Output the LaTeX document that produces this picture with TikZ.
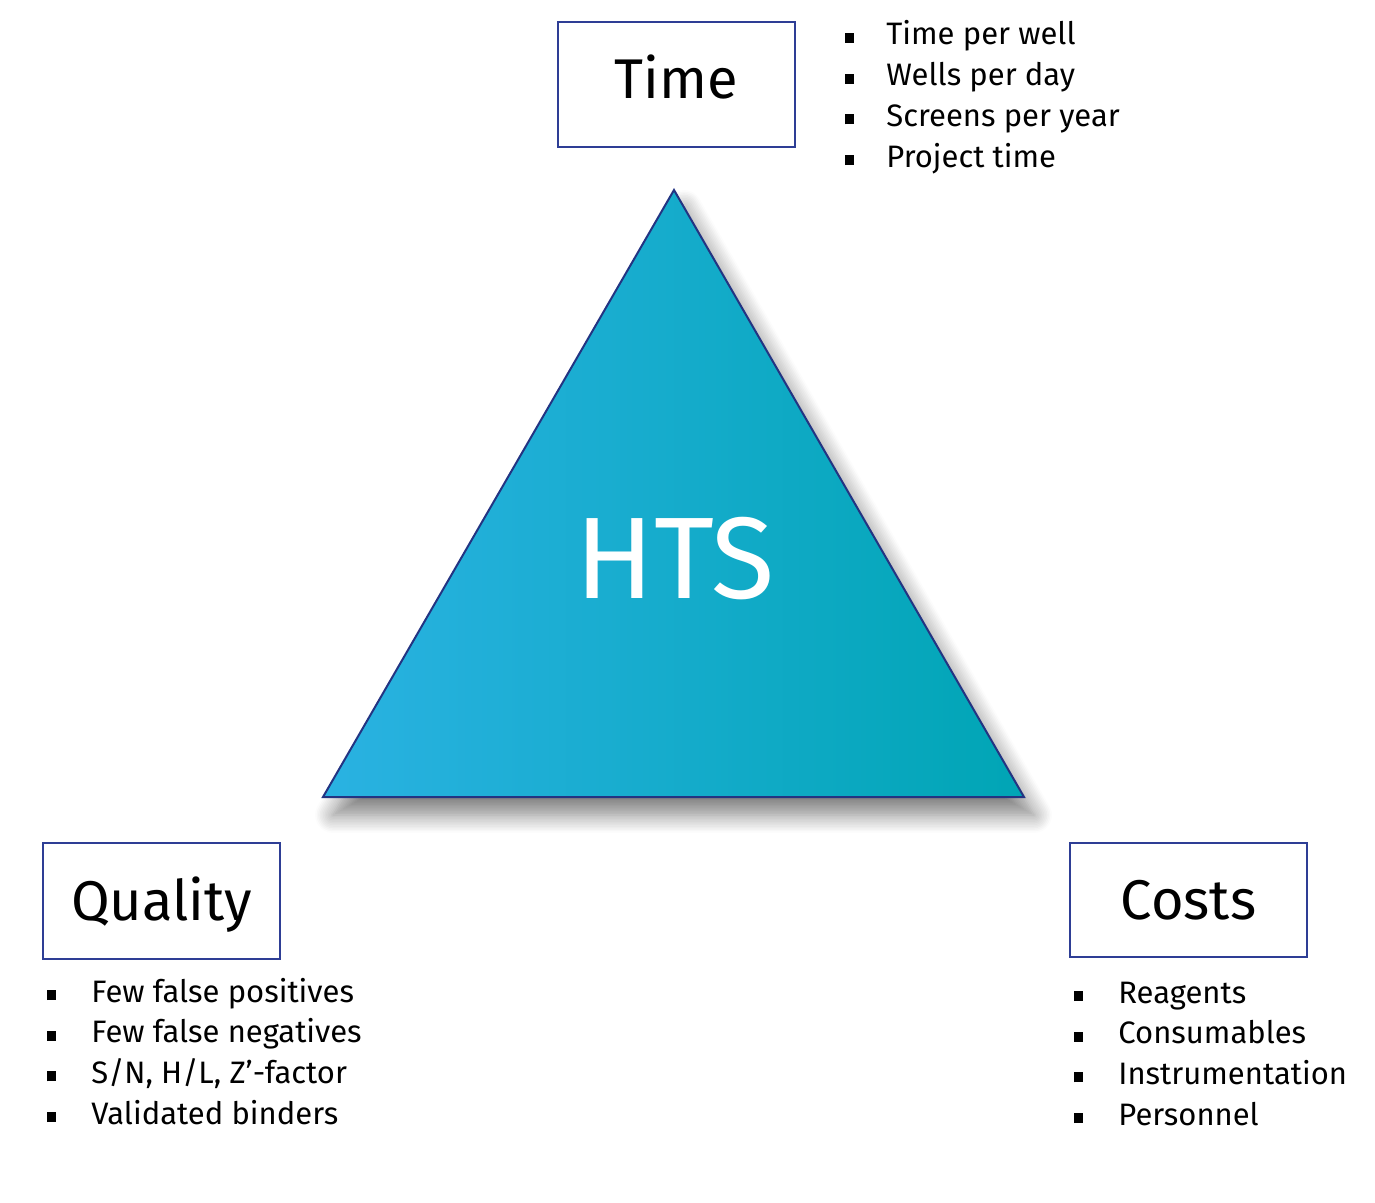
\documentclass[tikz,border=0pt]{standalone}
\usepackage{fontspec}
\setmainfont{Fira Sans}
\usetikzlibrary{calc,shadows.blur}
\definecolor{boxblue}{RGB}{46,62,149}
\definecolor{trileft}{RGB}{42,178,226}
\definecolor{triright}{RGB}{0,165,181}
\definecolor{triedge}{RGB}{35,52,130}

\newcommand{\blt}{\rule[1pt]{4.5pt}{5pt}}

\begin{document}
\begin{tikzpicture}[x=0.5pt, y=-0.5pt]
\tikzstyle{hdr} = [rectangle, draw=boxblue, line width=1pt, minimum width=118.5pt, inner sep=0pt, text height=19.3pt, text depth=0pt, font=\fontsize{28}{30}\selectfont]
\tikzstyle{itm} = [anchor=base west, inner sep=0pt, font=\fontsize{15.5}{18}\selectfont]
\tikzstyle{dot} = [anchor=base west, inner sep=0pt]

\useasboundingbox (0,0) rectangle (1375,1203);

% triangle
\coordinate (apex) at (674,190);
\coordinate (bl) at (323,797);
\coordinate (br) at (1024,797);
\path[blur shadow={shadow xshift=5pt, shadow yshift=-9pt, shadow blur radius=9pt, shadow blur steps=12, shadow opacity=50}, left color=trileft, right color=triright, draw=triedge, line width=1pt] (apex) -- (br) -- (bl) -- cycle;
\node (hts) at (675,558) [text=white, inner sep=0pt, text height=40pt, text depth=0pt, font=\fontsize{58}{60}\selectfont] {HTS};

% boxes
\node (time) [hdr, minimum height=62.5pt] at (676.5,84.5) {\raisebox{2.75pt}{Time}};
\node (quality) [hdr, minimum height=58pt] at (161.5,901) {Quality};
\node (costs) [hdr, minimum height=57pt] at (1188.5,900) {Costs};

% lists
\foreach \t [count=\i] in {Time per well, Wells per day, Screens per year, Project time} {
  \node (tdot\i) [dot] at (845,{45+40.7*(\i-1)}) {\blt};
  \node (titem\i) [itm] at (886,{45+40.7*(\i-1)}) {\t};
}
\foreach \t [count=\i] in {Few false positives, Few false negatives, {S/N, H/L, Z’-factor}, Validated binders} {
  \node (qdot\i) [dot] at (47,{1002+40.7*(\i-1)}) {\blt};
  \node (qitem\i) [itm] at (91,{1002+40.7*(\i-1)}) {\t};
}
\foreach \t [count=\i] in {Reagents, Consumables, Instrumentation, Personnel} {
  \node (cdot\i) [dot] at (1074,{1003+40.7*(\i-1)}) {\blt};
  \node (citem\i) [itm] at (1118,{1003+40.7*(\i-1)}) {\t};
}

\end{tikzpicture}
\end{document}
